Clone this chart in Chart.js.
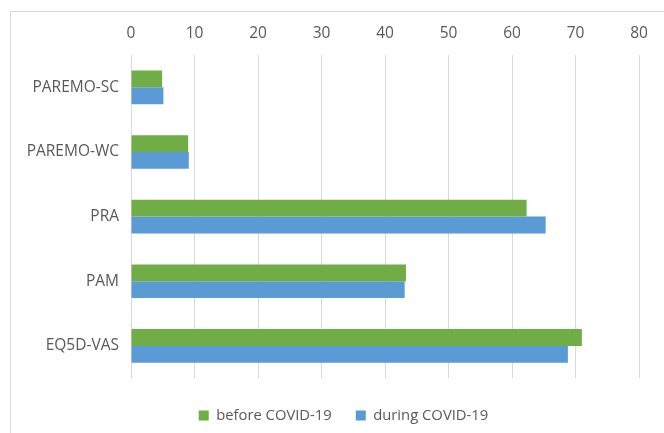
<!DOCTYPE html>
<html>
<head>
<meta charset="utf-8">
<script src="https://cdn.jsdelivr.net/npm/chart.js@4/dist/chart.umd.min.js"></script>
<style>
  html, body { margin: 0; padding: 0; background: #fff; width: 664px; height: 433px; overflow: hidden; }
  #frame { position: absolute; left: 10px; top: 11px; width: 700px; height: 460px; border: 1px solid #d9d9d9; box-sizing: border-box; }
  #c { position: absolute; left: 0; top: 0; }
</style>
</head>
<body>
<div id="frame"></div>
<canvas id="c" width="677" height="433"></canvas>
<script>
const categories = ['PAREMO-SC', 'PAREMO-WC', 'PRA', 'PAM', 'EQ5D-VAS'];
const beforeCovid = [4.9, 9.0, 62.3, 43.3, 71.0];
const duringCovid = [5.1, 9.1, 65.3, 43.1, 68.8];
const seriesNames = ['before COVID-19', 'during COVID-19'];

const FONT = "'Open Sans', 'Liberation Sans', sans-serif";
const TEXT = '#595959';
const GRID = '#d9d9d9';

// empty spacer axes that reserve room without drawing anything
const spacer = (axis, position, size) => ({
  type: 'linear',
  axis,
  position,
  display: true,
  ticks: { display: false },
  grid: { display: false, drawTicks: false },
  border: { display: false },
  afterFit(s) { if (s.isHorizontal()) s.height = size; else s.width = size; }
});

new Chart(document.getElementById('c'), {
  type: 'bar',
  data: {
    labels: categories,
    datasets: [
      { label: seriesNames[0], data: beforeCovid, backgroundColor: '#70ad47', borderWidth: 0, xAxisID: 'x', yAxisID: 'y' },
      { label: seriesNames[1], data: duringCovid, backgroundColor: '#5b9bd5', borderWidth: 0, xAxisID: 'x', yAxisID: 'y' }
    ]
  },
  options: {
    indexAxis: 'y',
    responsive: false,
    animation: false,
    categoryPercentage: 0.52,
    barPercentage: 1.0,
    layout: { padding: { left: 10, right: 0, top: 0, bottom: 0 } },
    scales: {
      x: {
        type: 'linear',
        position: 'top',
        min: 0, max: 80,
        ticks: { stepSize: 10, color: TEXT, font: { family: FONT, size: 15.5 }, padding: 12 },
        grid: { color: GRID, lineWidth: 1, drawTicks: false },
        border: { display: false },
        afterFit(s) { s.height = 55; }
      },
      y: {
        type: 'category',
        ticks: { color: TEXT, font: { family: FONT, size: 15.5 }, padding: 12 },
        grid: { display: false, drawTicks: false },
        border: { display: false },
        afterFit(s) { s.width = 121; }
      },
      xPad: spacer('x', 'bottom', 6),
      yPad: spacer('y', 'right', 38)
    },
    plugins: {
      legend: {
        position: 'bottom',
        labels: {
          color: TEXT,
          font: { family: FONT, size: 14.8 },
          boxWidth: 10,
          boxHeight: 10,
          padding: 24
        }
      },
      tooltip: { enabled: false }
    }
  }
});
</script>
</body>
</html>
